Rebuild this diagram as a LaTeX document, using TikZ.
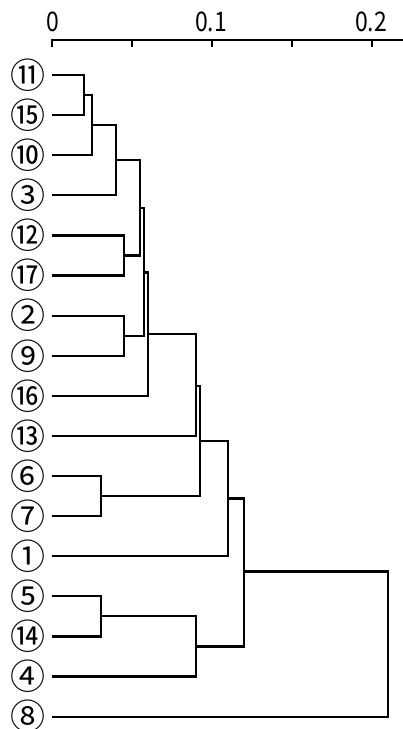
\documentclass[tikz,border=0pt]{standalone}
\usepackage{fontspec}
\newfontfamily\cjk{Noto Sans CJK JP}
\newfontfamily\axfont[FakeStretch=0.85]{Noto Sans CJK JP}
\begin{document}
\begin{tikzpicture}[x=1pt,y=-1pt,
  leaf/.style={font=\cjk\fontsize{35}{35}\selectfont, inner sep=0pt, anchor=center},
  ticklab/.style={font=\axfont\fontsize{27}{27}\selectfont, inner sep=0pt, anchor=center},
  link/.style={line width=2.2pt},
  axisline/.style={line width=2.2pt}]
\useasboundingbox (0,0) rectangle (403,729);
% axis
\coordinate (a0) at (52,40);
\coordinate (a1) at (403,40);
\coordinate (a0b) at (52,47);
\draw[axisline] (a0b) -- (a0) -- (a1);
\foreach \x in {132,212,292,372} {
  \coordinate (tk\x) at (\x,40);
  \coordinate (tb\x) at (\x,47);
  \draw[axisline] (tk\x) -- (tb\x);
}
\node[ticklab] (lab0) at (52.5,22) {0};
\node[ticklab] (lab1) at (211,22) {0.1};
\node[ticklab] (lab2) at (371,22) {0.2};
% leaves
\foreach \n/\lab [count=\i from 0] in {11/⑪,15/⑮,10/⑩,3/③,12/⑫,17/⑰,2/②,9/⑨,16/⑯,13/⑬,6/⑥,7/⑦,1/①,5/⑤,14/⑭,4/④,8/⑧} {
  \node[leaf] (L\n) at (28,75+40.1*\i) {\lab};
  \coordinate (t\n) at (52,75+40.1*\i);
}
% merge points
\coordinate (m1) at (84,95.05);
\coordinate (m2) at (92,125.1);
\coordinate (m3) at (116,160.2);
\coordinate (m4) at (124,255.45);
\coordinate (m5) at (140,207.8);
\coordinate (m6) at (124,335.65);
\coordinate (m7) at (144,272.5);
\coordinate (m8) at (148,334.0);
\coordinate (m9) at (196,386);
\coordinate (m10) at (101,496.05);
\coordinate (m11) at (200,441.2);
\coordinate (m12) at (228,498.5);
\coordinate (m13) at (101,616.35);
\coordinate (m14) at (196,646.4);
\coordinate (m15) at (244,571.5);
\coordinate (m16) at (388,644.5);
% links
\draw[link] (t11) -| (m1) |- (t15);
\draw[link] (m1) -| (m2) |- (t10);
\draw[link] (m2) -| (m3) |- (t3);
\draw[link] (t12) -| (m4) |- (t17);
\draw[link] (m3) -| (m5) |- (m4);
\draw[link] (t2) -| (m6) |- (t9);
\draw[link] (m5) -| (m7) |- (m6);
\draw[link] (m7) -| (m8) |- (t16);
\draw[link] (m8) -| (m9) |- (t13);
\draw[link] (t6) -| (m10) |- (t7);
\draw[link] (m9) -| (m11) |- (m10);
\draw[link] (m11) -| (m12) |- (t1);
\draw[link] (t5) -| (m13) |- (t14);
\draw[link] (m13) -| (m14) |- (t4);
\draw[link] (m12) -| (m15) |- (m14);
\draw[link] (m15) -| (m16) |- (t8);
\end{tikzpicture}
\end{document}
